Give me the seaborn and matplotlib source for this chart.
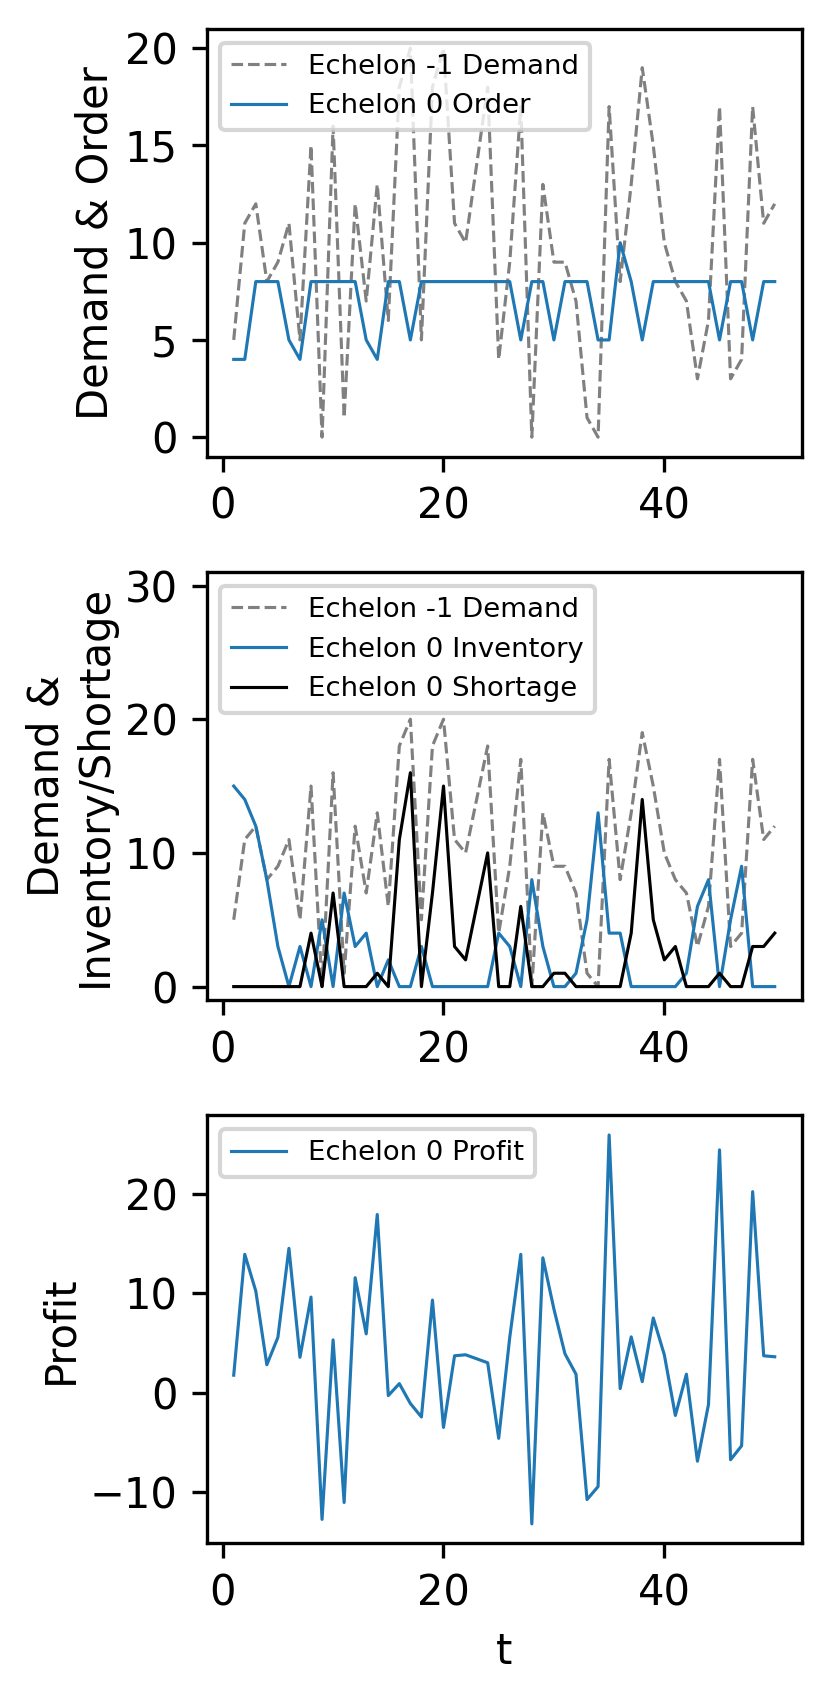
import matplotlib
matplotlib.use("Agg")
import matplotlib.pyplot as plt
import numpy as np
import seaborn as sns

# periods
t = np.arange(1, 51)

demand = [5, 11, 12, 8, 9, 11, 5, 15, 0, 16,
          1, 12, 7, 13, 6, 18, 20, 5, 18, 20,
          11, 10, 14, 18, 4, 9, 17, 0, 13, 9,
          9, 7, 1, 0, 17, 8, 13, 19, 15, 10,
          8, 7, 3, 6, 17, 3, 4, 17, 11, 12]

order = [4, 4, 8, 8, 8, 5, 4, 8, 8, 8,
         8, 8, 5, 4, 8, 8, 5, 8, 8, 8,
         8, 8, 8, 8, 8, 8, 5, 8, 8, 5,
         8, 8, 8, 5, 5, 10, 8, 5, 8, 8,
         8, 8, 8, 8, 5, 8, 8, 5, 8, 8]

inventory = [15, 14, 12, 8, 3, 0, 3, 0, 5, 0,
             7, 3, 4, 0, 2, 0, 0, 3, 0, 0,
             0, 0, 0, 0, 4, 3, 0, 8, 3, 0,
             0, 1, 5, 13, 4, 4, 0, 0, 0, 0,
             0, 1, 6, 8, 0, 5, 9, 0, 0, 0]

shortage = [0, 0, 0, 0, 0, 0, 0, 4, 0, 7,
            0, 0, 0, 1, 0, 11, 16, 0, 7, 15,
            3, 2, 6, 10, 0, 0, 6, 0, 0, 1,
            1, 0, 0, 0, 0, 0, 4, 14, 5, 2,
            3, 0, 0, 0, 1, 0, 0, 3, 3, 4]

profit = [1.75, 13.9, 10.2, 2.8, 5.55, 14.5, 3.55, 9.6, -12.75, 5.3,
          -11.05, 11.55, 5.9, 17.9, -0.3, 0.9, -1.1, -2.45, 9.3, -3.5,
          3.7, 3.8, 3.4, 3.0, -4.6, 5.55, 13.9, -13.2, 13.55, 8.4,
          3.9, 1.85, -10.75, -9.45, 25.9, 0.4, 5.6, 1.1, 7.5, 3.8,
          -2.3, 1.85, -6.9, -1.2, 24.4, -6.75, -5.35, 20.2, 3.7, 3.6]

LW = 0.75
BLUE = "#1f77b4"
LEGEND_FS = 6.6

fig, axes = plt.subplots(3, 1, figsize=(830 / 300, 1693 / 300), dpi=300)
fig.subplots_adjust(left=0.249, right=0.966, top=0.983, bottom=0.0884, hspace=0.27)

# demand vs order
ax = axes[0]
sns.lineplot(x=t, y=demand, ax=ax, color="gray", linestyle="--", linewidth=LW, label="Echelon -1 Demand")
sns.lineplot(x=t, y=order, ax=ax, color=BLUE, linewidth=LW, label="Echelon 0 Order")
ax.set_ylabel("Demand & Order", labelpad=2)
ax.legend(loc="upper left", fontsize=LEGEND_FS)

# demand vs inventory / shortage
ax = axes[1]
sns.lineplot(x=t, y=demand, ax=ax, color="gray", linestyle="--", linewidth=LW, label="Echelon -1 Demand")
sns.lineplot(x=t, y=inventory, ax=ax, color=BLUE, linewidth=LW, label="Echelon 0 Inventory")
sns.lineplot(x=t, y=shortage, ax=ax, color="black", linewidth=LW, label="Echelon 0 Shortage")
ax.set_ylim(-1, 31)
ax.set_ylabel("Demand &\nInventory/Shortage", labelpad=2)
ax.legend(loc="upper left", fontsize=LEGEND_FS)

# profit
ax = axes[2]
sns.lineplot(x=t, y=profit, ax=ax, color=BLUE, linewidth=LW, label="Echelon 0 Profit")
ax.set_ylabel("Profit", labelpad=2)
ax.set_xlabel("t")
ax.legend(loc="upper left", fontsize=LEGEND_FS)

fig.savefig("out.png", dpi=300)
plt.close(fig)
